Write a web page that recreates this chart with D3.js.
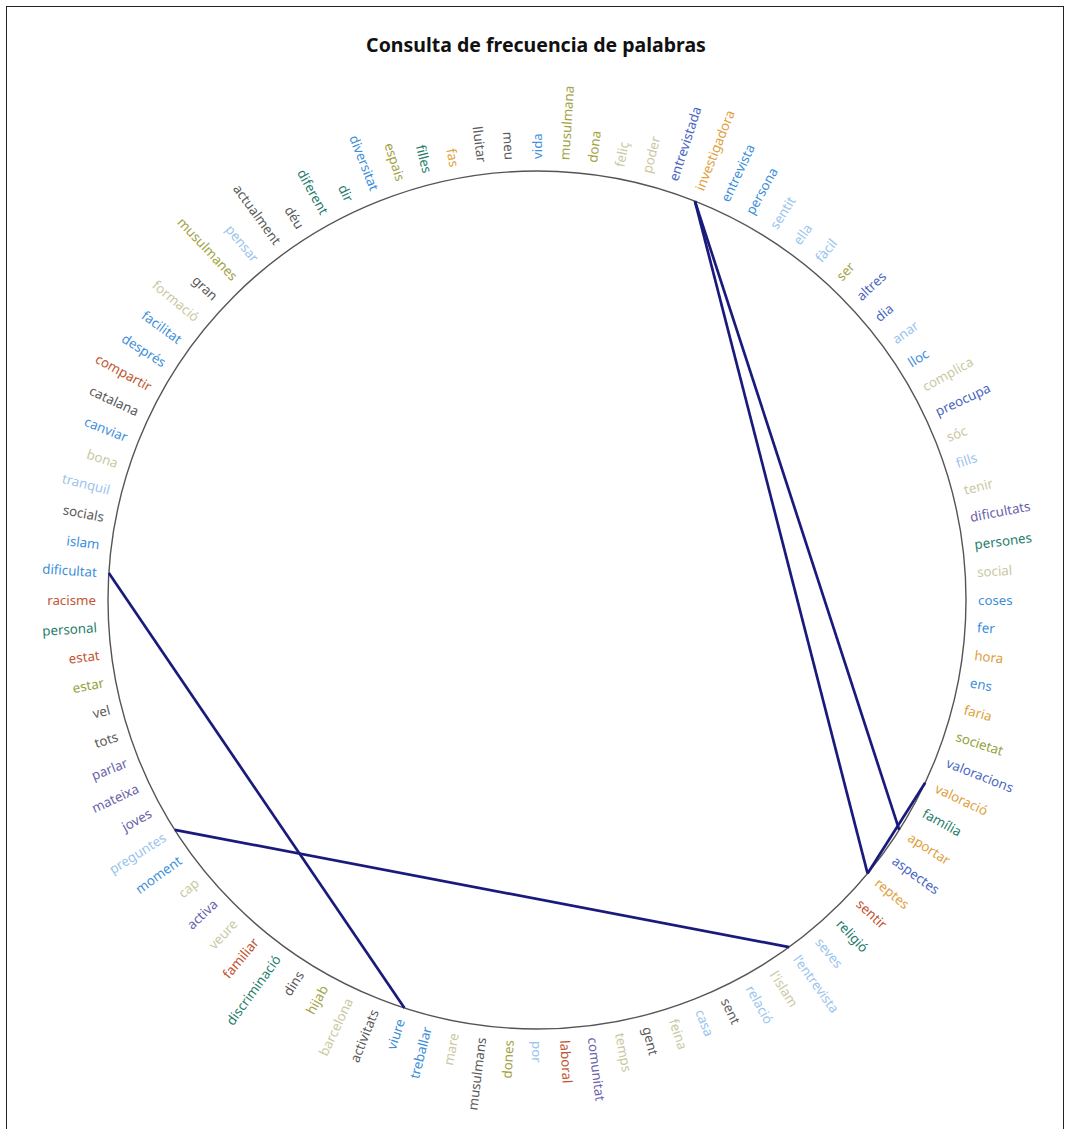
<!DOCTYPE html>
<html>
<head>
<meta charset="utf-8">
<script src="https://cdn.jsdelivr.net/npm/d3@7"></script>
<style>
  html, body { margin: 0; padding: 0; background: #fff; }
  svg { display: block; }
</style>
</head>
<body>
<svg id="chart" width="1071" height="1129"></svg>
<script>
// ---- DATA ----
const title = "Consulta de frecuencia de palabras";

const words = [
  "vida","musulmana","dona","feliç","poder","entrevistada","investigadora","entrevista","persona","sentit",
  "ella","fàcil","ser","altres","dia","anar","lloc","complica","preocupa","sóc",
  "fills","tenir","dificultats","persones","social","coses","fer","hora","ens","faria",
  "societat","valoracions","valoració","família","aportar","aspectes","reptes","sentir","religió","seves",
  "l'entrevista","l'islam","relació","sent","casa","feina","gent","temps","comunitat","laboral",
  "por","dones","musulmans","mare","treballar","viure","activitats","barcelona","hijab","dins",
  "discriminació","familiar","veure","activa","cap","moment","preguntes","joves","mateixa","parlar",
  "tots","vel","estar","estat","personal","racisme","dificultat","islam","socials","tranquil",
  "bona","canviar","catalana","compartir","després","facilitat","formació","gran","musulmanes","pensar",
  "actualment","déu","diferent","dir","diversitat","espais","filles","fas","lluitar","meu"
];

// cluster id of each word (same order as words)
const clusters = [
  1,2,2,3,3,4,5,1,1,6,
  6,6,2,4,4,6,1,3,4,3,
  6,3,7,8,3,1,1,5,1,5,
  9,4,5,8,5,4,5,10,8,6,
  6,3,6,11,6,3,11,3,7,10,
  6,2,11,3,1,1,11,3,2,11,
  8,10,3,7,3,1,6,7,7,7,
  11,11,9,10,8,10,1,1,11,6,
  3,1,11,10,1,1,3,11,2,6,
  11,11,8,8,1,2,8,5,11,11
];

const clusterIds = [1,2,3,4,5,6,7,8,9,10,11];
const clusterColors = ["#3d8fd9","#a3a346","#c9c9a2","#4a66c2","#dfa040","#99c4ee","#6a62aa","#1f7d6c","#93a23a","#bf5533","#5a5a5a"];

// similarity links between words
const links = [
  ["investigadora","reptes"],
  ["investigadora","aportar"],
  ["reptes","valoració"],
  ["dificultat","viure"],
  ["preguntes","l'entrevista"]
];

// ---- LAYOUT ----
const svg = d3.select("#chart");
const W = 1071, H = 1129;
const cx = 537, cy = 600, R = 429, pad = 12;

svg.append("rect")
  .attr("x", 6.5).attr("y", 6.5)
  .attr("width", W - 14).attr("height", H)
  .attr("fill", "#fff").attr("stroke", "#222").attr("stroke-width", 1);

svg.append("text")
  .attr("x", 536).attr("y", 52)
  .attr("text-anchor", "middle")
  .attr("font-family", "'Noto Sans', 'Open Sans', sans-serif")
  .attr("font-weight", "bold")
  .attr("font-size", 19.5)
  .attr("fill", "#111")
  .text(title);

const angle = d3.scalePoint().domain(words).range([0, 360 - 360 / words.length]);
const color = d3.scaleOrdinal().domain(clusterIds).range(clusterColors);

const g = svg.append("g").attr("transform", `translate(${cx},${cy})`);

g.append("circle")
  .attr("r", R)
  .attr("fill", "none")
  .attr("stroke", "#555")
  .attr("stroke-width", 1.4);

function pt(w) {
  const a = angle(w) * Math.PI / 180;
  return [R * Math.sin(a), -R * Math.cos(a)];
}

const line = d3.line();
g.selectAll("path.link")
  .data(links)
  .join("path")
  .attr("class", "link")
  .attr("d", d => line([pt(d[0]), pt(d[1])]))
  .attr("fill", "none")
  .attr("stroke", "#1a1a7c")
  .attr("stroke-width", 2.7);

g.selectAll("text.word")
  .data(words)
  .join("text")
  .attr("class", "word")
  .attr("font-family", "'Noto Sans', 'Open Sans', sans-serif")
  .attr("font-size", 13.3)
  .attr("dy", "0.35em")
  .attr("fill", (d, i) => color(clusters[i]))
  .attr("text-anchor", d => angle(d) < 180 ? "start" : "end")
  .attr("transform", d => {
    const a = angle(d);
    return `rotate(${a - 90}) translate(${R + pad},0)` + (a < 180 ? "" : " rotate(180)");
  })
  .text(d => d);
</script>
</body>
</html>
